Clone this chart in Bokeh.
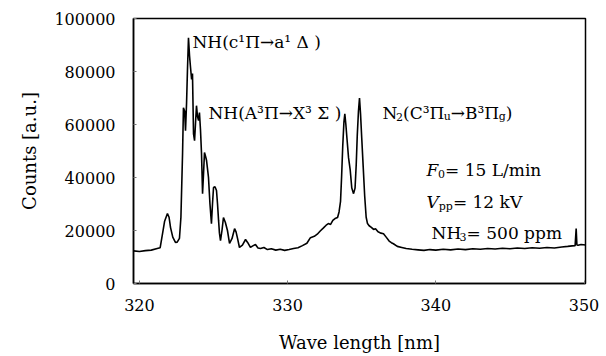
from bokeh.plotting import figure
from bokeh.models import Range1d, FixedTicker, BasicTickFormatter, Label
from bokeh.embed import file_html
from bokeh.resources import INLINE

# ---- data ----
wavelength = [
    319.6, 320.0, 320.4, 320.8, 321.2, 321.4, 321.56, 321.7, 321.89, 322.0,
    322.1, 322.25, 322.43, 322.55, 322.7, 322.8, 322.91, 322.97, 323.05, 323.11,
    323.18, 323.24, 323.31, 323.38, 323.45, 323.52, 323.58, 323.65, 323.72, 323.78,
    323.85, 323.92, 323.99, 324.05, 324.12, 324.19, 324.26, 324.33, 324.39, 324.46,
    324.53, 324.6, 324.66, 324.76, 324.86, 324.93, 325.0, 325.1, 325.2, 325.27,
    325.34, 325.4, 325.47, 325.57, 325.67, 325.8, 325.94, 326.08, 326.25, 326.42,
    326.52, 326.62, 326.75, 326.95, 327.16, 327.3, 327.49, 327.65, 327.83, 328.0,
    328.17, 328.4, 328.64, 328.9, 329.2, 329.5, 329.8, 330.1, 330.4, 330.7,
    331.0, 331.3, 331.54, 331.8, 332.0, 332.2, 332.42, 332.6, 332.75, 332.9,
    333.05, 333.2, 333.37, 333.47, 333.57, 333.64, 333.72, 333.8, 333.86, 333.93,
    334.0, 334.11, 334.22, 334.33, 334.45, 334.55, 334.63, 334.7, 334.78, 334.85,
    334.92, 335.0, 335.1, 335.2, 335.3, 335.39, 335.5, 335.65, 335.8, 335.93,
    336.1, 336.3, 336.47, 336.65, 336.85, 337.0, 337.14, 337.4, 337.7, 338.0,
    338.4, 338.8, 339.2, 339.6, 340.0, 340.5, 341.0, 341.5, 342.0, 342.5,
    343.0, 343.5, 344.0, 344.5, 345.0, 345.5, 346.0, 346.5, 347.0, 347.5,
    348.0, 348.5, 348.9, 349.2, 349.4, 349.47, 349.52, 349.6, 349.8, 350.1,
]
counts = [
    12300, 12100, 12400, 12600, 13200, 13500, 18800, 23500, 26400, 25000,
    21100, 17500, 15500, 15600, 17000, 25000, 49000, 66300, 65000, 57700,
    68000, 80300, 92700, 86000, 81400, 77000, 79200, 56500, 53900, 60000,
    67100, 63000, 61500, 64500, 58000, 49000, 33900, 42000, 49400, 48000,
    46400, 43000, 40000, 30000, 22600, 30000, 36200, 36500, 35100, 30000,
    23800, 19000, 16200, 20000, 24900, 23000, 20000, 15100, 17000, 20700,
    19500, 17000, 13600, 14500, 16600, 15500, 13600, 14200, 14700, 13400,
    13200, 13600, 12800, 13100, 12600, 12900, 12500, 12800, 13200, 13500,
    14300, 15200, 17300, 17800, 18600, 19800, 21000, 22000, 22600, 22300,
    23800, 24500, 24900, 27000, 31000, 40000, 52000, 61000, 64000, 60000,
    55000, 47500, 43000, 36000, 33900, 36000, 45000, 56000, 65000, 70000,
    64000, 55000, 44000, 33000, 25000, 22600, 21800, 21200, 20400, 20700,
    19500, 19000, 18800, 17500, 16000, 15400, 15000, 14000, 13600, 13200,
    12900, 12700, 12500, 12800, 12600, 12900, 12700, 13000, 12800, 13100,
    12900, 13200, 13000, 13300, 13100, 13400, 13200, 13500, 13300, 13600,
    13400, 13800, 14000, 14200, 14300, 20700, 14500, 14400, 14700, 14500,
]
x_ticks = [320, 330, 340, 350]
y_ticks = [0, 20000, 40000, 60000, 80000, 100000]

# ---- layout ----
X0, X1 = 319.6, 350.1
Y0, Y1 = 0, 100000
W, H = 606, 356
BL, BR, BT, BB = 133, 21, 18, 73
FRAME_W = W - BL - BR
FRAME_H = H - BT - BB
FONT = "DejaVu Serif"

p = figure(width=W, height=H, output_backend="svg", toolbar_location=None,
           x_range=Range1d(X0, X1), y_range=Range1d(Y0, Y1),
           min_border_left=BL, min_border_right=BR,
           min_border_top=BT, min_border_bottom=BB)
p.background_fill_color = "white"
p.border_fill_color = "white"
p.outline_line_color = "black"
p.outline_line_width = 1.5
p.grid.visible = False

p.line(wavelength, counts, line_color="black", line_width=1.6)

for ax in (p.xaxis[0], p.yaxis[0]):
    ax.axis_line_color = "black"
    ax.axis_line_width = 1.5
    ax.major_tick_in = 3
    ax.major_tick_out = 0
    ax.major_tick_line_color = "#777777"
    ax.minor_tick_line_color = None
    ax.major_label_text_font = FONT
    ax.major_label_text_font_size = "16px"
    ax.major_label_text_color = "black"
    ax.axis_label_text_font = FONT
    ax.axis_label_text_font_size = "18px"
    ax.axis_label_text_font_style = "normal"
    ax.axis_label_text_color = "black"

p.xaxis.ticker = FixedTicker(ticks=x_ticks)
p.yaxis.ticker = FixedTicker(ticks=y_ticks)
p.yaxis.formatter = BasicTickFormatter(use_scientific=False)
p.xaxis.axis_label = "Wave length [nm]"
p.yaxis.axis_label = "Counts [a.u.]"
p.xaxis.major_label_standoff = 15
p.xaxis.axis_label_standoff = 18
p.yaxis.major_label_standoff = 18
p.yaxis.axis_label_standoff = 11

# ---- rich-text annotations built from pieces ----
EM = {
    " ": 0.318, "(": 0.39, ")": 0.39, "/": 0.337, "=": 0.838, "→": 0.838,
    "A": 0.722, "B": 0.732, "C": 0.744, "F": 0.682, "H": 0.85, "L": 0.654,
    "N": 0.803, "V": 0.722, "X": 0.718, "a": 0.602, "c": 0.564, "g": 0.642,
    "i": 0.32, "k": 0.613, "m": 0.953, "n": 0.643, "p": 0.643, "u": 0.643,
    "Π": 0.85, "Σ": 0.68, "Δ": 0.72, "¹": 0.40, "³": 0.40,
}
for d in "0123456789":
    EM[d] = 0.636

nm_per_px = (X1 - X0) / FRAME_W
cnt_per_px = (Y1 - Y0) / FRAME_H


def rich(x, y, segs):
    off = 0.0
    for text, size, drop, style in segs:
        p.add_layout(Label(x=x + off * nm_per_px, y=y - drop * cnt_per_px,
                           text=text, text_font=FONT,
                           text_font_size=f"{size}px", text_font_style=style,
                           text_color="black", text_align="left",
                           text_baseline="alphabetic"))
        off += sum(EM.get(ch, 0.6) for ch in text) * size


S, s, D = 17, 11, 4
rich(323.58, 91300, [("NH(c¹Π→a¹ Δ )", S, 0, "normal")])
rich(324.66, 64500, [("NH(A³Π→X³ Σ )", S, 0, "normal")])
rich(336.40, 64500, [("N", S, 0, "normal"), ("2", s, D, "normal"),
                     ("(C³Π", S, 0, "normal"), ("u", s, D, "normal"),
                     ("→B³Π", S, 0, "normal"), ("g", s, D, "normal"),
                     (")", S, 0, "normal")])
P = 17
rich(339.37, 43000, [("F", P, 0, "italic"), ("0", s, D, "normal"),
                     (" = 15 L/min", P, 0, "normal")])
rich(339.37, 30600, [("V", P, 0, "italic"), ("pp", s, D, "normal"),
                     (" = 12 kV", P, 0, "normal")])
rich(339.71, 18900, [("NH", P, 0, "normal"), ("3", s, D, "normal"),
                     (" = 500 ppm", P, 0, "normal")])

open("out.html", "w").write(file_html(p, INLINE))
